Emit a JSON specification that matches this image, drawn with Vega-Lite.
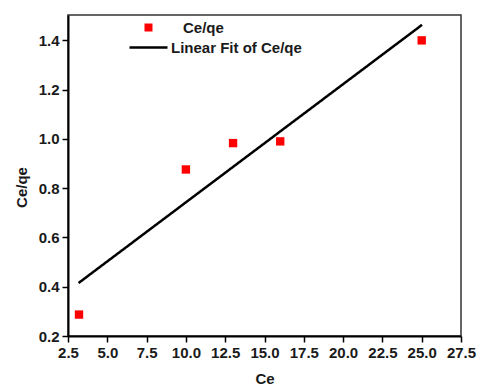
{
  "$schema": "https://vega.github.io/schema/vega-lite/v6.json",
  "width": 393,
  "height": 321,
  "autosize": "none",
  "padding": {"left": 68, "top": 15, "right": 17, "bottom": 49},
  "background": "white",
  "config": {
    "font": "Liberation Sans",
    "view": {"stroke": "#333333", "strokeWidth": 1.5},
    "axis": {
      "labelFont": "Liberation Sans", "labelFontWeight": "bold", "labelFontSize": 15, "labelColor": "#1a1a1a",
      "titleFont": "Liberation Sans", "titleFontWeight": "bold", "titleFontSize": 15, "titleColor": "#1a1a1a",
      "domainColor": "black", "domainWidth": 2, "tickColor": "black", "tickWidth": 1.5, "tickSize": 6,
      "grid": false
    }
  },
  "datasets": {
    "pts": [
      {"Ce": 3.2, "Ceqe": 0.287, "series": "Ce/qe"},
      {"Ce": 10.0, "Ceqe": 0.876, "series": "Ce/qe"},
      {"Ce": 13.0, "Ceqe": 0.983, "series": "Ce/qe"},
      {"Ce": 16.0, "Ceqe": 0.99, "series": "Ce/qe"},
      {"Ce": 25.0, "Ceqe": 1.40, "series": "Ce/qe"}
    ],
    "fit": [
      {"Ce": 3.17, "Ceqe": 0.415, "series": "Linear Fit of Ce/qe"},
      {"Ce": 25.02, "Ceqe": 1.463, "series": "Linear Fit of Ce/qe"}
    ]
  },
  "layer": [
    {
      "data": {"name": "fit"},
      "mark": {"type": "line", "strokeWidth": 2.5, "color": "black"},
      "encoding": {
        "x": {"field": "Ce", "type": "quantitative", "scale": {"domain": [2.5, 27.5], "nice": false, "zero": false},
          "axis": {"title": "Ce", "values": [2.5, 5, 7.5, 10, 12.5, 15, 17.5, 20, 22.5, 25, 27.5], "tickCount": 20, "format": ".1f", "labelPadding": 3, "titlePadding": 11, "labelFlush": false, "labelOverlap": false, "labelSeparation": 0}},
        "y": {"field": "Ceqe", "type": "quantitative", "scale": {"domain": [0.2, 1.503], "nice": false, "zero": false},
          "axis": {"title": "Ce/qe", "values": [0.2, 0.4, 0.6, 0.8, 1.0, 1.2, 1.4], "tickCount": 20, "format": ".1f", "labelPadding": 3, "titlePadding": 9, "titleY": 172, "labelFlush": false, "labelOverlap": false}},
        "strokeDash": {"field": "series", "type": "nominal", "scale": {"range": [[1, 0]]},
          "legend": {"orient": "none", "legendX": 60, "legendY": 12, "title": null, "symbolType": "stroke", "symbolSize": 1444, "symbolStrokeWidth": 2.5, "symbolStrokeColor": "black", "labelFont": "Liberation Sans", "labelFontWeight": "bold", "labelFontSize": 15, "labelColor": "#1a1a1a", "labelOffset": 2, "padding": 0}}
      }
    },
    {
      "data": {"name": "pts"},
      "mark": {"type": "point", "shape": "square", "filled": true, "size": 70, "color": "red", "opacity": 1},
      "encoding": {
        "x": {"field": "Ce", "type": "quantitative"},
        "y": {"field": "Ceqe", "type": "quantitative"},
        "shape": {"field": "series", "type": "nominal", "scale": {"range": ["square"]},
          "legend": {"orient": "none", "legendX": 73, "legendY": 5, "title": null, "symbolSize": 64, "symbolFillColor": "red", "symbolStrokeWidth": 0, "symbolOpacity": 1, "labelFont": "Liberation Sans", "labelFontWeight": "bold", "labelFontSize": 15, "labelColor": "#1a1a1a", "labelOffset": 27, "padding": 0}}
      }
    }
  ]
}
